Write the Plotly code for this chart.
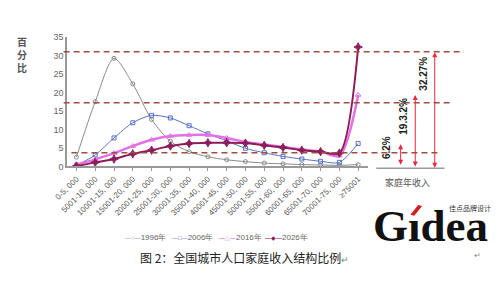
import plotly.graph_objects as go

categories = ["0-5, 000", "5001-10, 000", "10001-15, 000", "15001-20, 000",
              "20001-25, 000", "25001-30, 000", "30001-35, 000", "35001-40, 000",
              "40001-45, 000", "45001-50, 000", "50001-55, 000", "55001-60, 000",
              "60001-65, 000", "65001-70, 000", "70001-75, 000", "≥75001"]

y1996 = [2.5, 17.5, 29.2, 22.3, 12.7, 6.8, 4.0, 2.6, 1.8, 1.3, 0.9, 0.7, 0.5, 0.4, 0.3, 0.5]
y2006 = [0.3, 3.1, 7.7, 11.8, 13.8, 13.1, 11.0, 8.8, 6.9, 4.9, 3.7, 2.7, 2.0, 1.4, 1.1, 6.2]
y2016 = [0.5, 1.9, 3.6, 5.5, 7.2, 8.2, 8.5, 8.5, 7.7, 6.6, 5.9, 5.3, 4.6, 4.0, 2.9, 19.32]
y2026 = [0.1, 1.1, 2.0, 3.4, 4.4, 5.5, 6.2, 6.4, 6.4, 6.3, 5.7, 5.1, 4.4, 4.0, 3.6, 32.27]

series_names = ["1996年", "2006年", "2016年", "2026年"]

y_ticks = [0, 5, 10, 15, 20, 25, 30, 35]
ref_levels = [31.0, 17.2, 3.7]
share_labels = ["6.2%", "19.3.2%", "32.27%"]

fig = go.Figure()

styles = [
    dict(color="#8a8a8a", lw=1, sym="circle-open", ms=4, glyph="○"),
    dict(color="#5872c8", lw=1, sym="square-open", ms=4, glyph="□"),
    dict(color="#e271e6", lw=2.5, sym="triangle-up-open", ms=5, glyph="△"),
    dict(color="#8c1d5a", lw=2, sym="star-diamond", ms=6, glyph="◆"),
]
for name, ys, st in zip(series_names, [y1996, y2006, y2016, y2026], styles):
    fig.add_trace(go.Scatter(
        x=categories, y=ys, name=name, mode="lines+markers", showlegend=False,
        line=dict(color=st["color"], width=st["lw"], shape="spline", smoothing=0.8),
        marker=dict(symbol=st["sym"], size=st["ms"], color=st["color"],
                    line=dict(color=st["color"], width=1)),
    ))

# dashed reference lines
dash_x = [(0.104, 0.926), (0.104, 0.900), (0.120, 0.876)]
for lvl, (xa, xb) in zip(ref_levels, dash_x):
    fig.add_shape(type="line", xref="paper", yref="y", x0=xa, x1=xb, y0=lvl, y1=lvl,
                  line=dict(color="#9c5040", width=1.5, dash="6px,4px"))

# baseline under arrows
fig.add_shape(type="line", xref="paper", yref="paper", x0=0.746, x1=0.886,
              y0=1 - 169 / 300, y1=1 - 169 / 300, line=dict(color="#999999", width=1.5))

# double arrows
arrow_x = [398, 413, 433]
arrow_top = [144, 93, 49]
for ax_, top in zip(arrow_x, arrow_top):
    fig.add_annotation(x=ax_ / 500, y=1 - top / 300, xref="paper", yref="paper",
                       ax=0, ay=166 - top, axref="pixel", ayref="pixel",
                       text="", showarrow=True, arrowside="end+start",
                       arrowhead=2, arrowsize=1, arrowwidth=1, arrowcolor="#e8283c")


def note(x, y, text, size, color, family="Noto Sans CJK SC", angle=0, xanchor="center"):
    fig.add_annotation(x=x / 500, y=1 - y / 300, xref="paper", yref="paper",
                       xanchor=xanchor, yanchor="middle", text=text, showarrow=False,
                       textangle=angle, font=dict(family=family, size=size, color=color))


label_pos = [(383, 148), (401, 115), (422, 71)]
for lab, (lx, ly) in zip(share_labels, label_pos):
    note(lx, ly, "<b>" + lab + "</b>", 10, "#222222", "Liberation Sans", -90)

note(405, 184, "家庭年收入", 9, "#555555")
note(9, 51, "<b>百<br>分<br>比</b>", 10, "#555555")
note(238, 261, "图 2：全国城市人口家庭收入结构比例<span style='font-size:9px;color:#888'>↵</span>",
     12, "#222222")

# legend (drawn as text rows)
legend_x = [113, 161, 209, 257]
for name, st, lx in zip(series_names, styles, legend_x):
    dash = "<b>—</b>" if st["lw"] > 1.5 else "—"
    sym = "<span style='font-size:6px;color:%s'>%s%s%s</span>" % (
        st["color"], dash, st["glyph"], dash)
    note(lx, 240, sym + "<span style='color:#666666'>" + name + "</span>", 8, "#666666",
         "Liberation Sans", xanchor="left")

# logo
note(429, 229, "<b>Gıdea</b>", 45, "#111111", "Liberation Serif")
fig.add_shape(type="path", xref="paper", yref="paper",
              path="M %f %f L %f %f L %f %f L %f %f Z" % (
                  408 / 500, 1 - 217 / 300, 416 / 500, 1 - 207 / 300,
                  420 / 500, 1 - 208 / 300, 412 / 500, 1 - 218 / 300),
              fillcolor="#d42020", line=dict(width=0))
note(469, 210, "佳点品牌设计", 7, "#333333")
note(477, 258, "↵", 8, "#888888")

fig.update_layout(
    width=500, height=300, margin=dict(l=0, r=0, t=0, b=0),
    paper_bgcolor="white", plot_bgcolor="white",
    showlegend=False,
    font=dict(family="Liberation Sans"),
)
fig.update_xaxes(domain=[0.111, 0.728], range=[-0.5, 15.5], type="category",
                 showline=True, linecolor="#999999", linewidth=1.5, showgrid=False,
                 tickangle=-45, ticks="outside", ticklen=3, tickcolor="#999999",
                 tickfont=dict(family="Liberation Sans", size=8, color="#555555"))
fig.update_yaxes(domain=[1 - 167 / 300, 1 - 33 / 300], range=[0, 35], tickvals=y_ticks,
                 showline=True, linecolor="#999999", linewidth=1.5, showgrid=False,
                 zeroline=False, ticks="", ticklen=0,
                 tickfont=dict(family="Liberation Sans", size=9, color="#666666"))

fig.write_html("out.html")
